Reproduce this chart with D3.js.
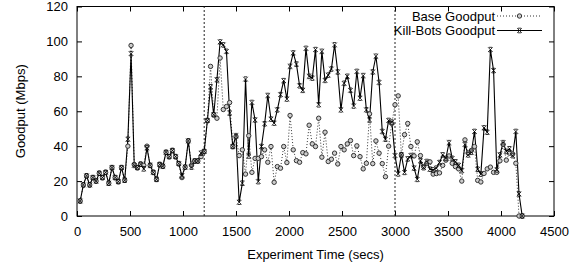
<!DOCTYPE html>
<html>
<head>
<meta charset="utf-8">
<script src="https://cdn.jsdelivr.net/npm/d3@7"></script>
<style>
  body { margin: 0; background: #fff; }
  text { font-family: "Liberation Sans", Arial, sans-serif; fill: #000; }
  .axis path, .axis line { stroke: #000; stroke-width: 1; }
</style>
</head>
<body>
<script>
//sample times (secs)
var times = [
    30,60,90,120,150,180,210,240,270,300,
    330,360,390,420,450,480,510,540,570,600,
    630,660,690,720,750,780,810,840,870,900,
    930,960,990,1020,1050,1080,1110,1140,1170,1200,
    1230,1260,1290,1320,1350,1380,1410,1440,1470,1500,
    1530,1560,1590,1620,1650,1680,1710,1740,1770,1800,
    1830,1860,1890,1920,1950,1980,2010,2040,2070,2100,
    2130,2160,2190,2220,2250,2280,2310,2340,2370,2400,
    2430,2460,2490,2520,2550,2580,2610,2640,2670,2700,
    2730,2760,2790,2820,2850,2880,2910,2940,2970,3000,
    3030,3060,3090,3120,3150,3180,3210,3240,3270,3300,
    3330,3360,3390,3420,3450,3480,3510,3540,3570,3600,
    3630,3660,3690,3720,3750,3780,3810,3840,3870,3900,
    3930,3960,3990,4020,4050,4080,4110,4140,4170,4200
];

//goodput (Mbps)
var baseGoodput = [
    8.6,17.8,23,17.8,22,20,24.5,22,25,18.8,
    27.7,22,19.7,27.7,20.5,40,97.7,29.5,27.7,29.7,
    29,40,29,25,21,29.5,28.5,36.5,34,37.5,
    34,30,22,28,43,29,31.5,31.5,34,37,
    54.7,85.7,58,56,90.5,61,62.7,65,39.8,45.5,
    34.6,37.9,24,46,25,33,33,34,37.9,30.8,
    39.8,19.3,28.3,27.4,39.8,30.6,57.6,37.9,31.7,30.8,
    36.3,35.6,52,41.3,39.8,56,33.7,48,31.2,32.5,
    36,29.8,39.8,37.9,41.3,43.2,34.6,40.2,34,27,
    30.2,58.5,30,43,36,30,22.5,40,53,63.7,
    68.8,35,46.6,53,39.8,34.4,42.5,34.6,28.3,30.2,
    31,24,24.3,24.7,29,32,34.4,30.2,28.3,27,
    20,43.6,36,37.5,39.8,20.4,19.5,24.4,27,28,
    25,25,31.6,41,32,36,35.5,30.2,0,0
];

var killBotsGoodput = [
    8.6,17.8,23,17.8,22,20,24.5,22,25,18.8,
    27.7,22,19.7,27.7,20.5,44,93,29,27.7,29.7,
    27,39,29,25,21,29.5,28.5,36.5,34,37.5,
    34,30,23,28,43,28,31.5,31.5,36,37,
    54.7,74,58,78,99.7,98,94.3,59,39.8,46,
    7.9,18.8,78.4,34.4,65,55,19.7,39.8,52.8,69,
    55.5,53.2,60.8,69.5,77.5,67,85.7,93.4,87,74.6,
    72,96,80,79,95.3,63.7,94.3,77.7,80.7,84.2,
    98,82.5,60.8,76,80,72,63,82.8,67.5,80.4,
    60.8,55,82.5,91.5,76.5,48.4,44,54.7,53.8,34.6,
    24.1,35,25,32.7,34.6,27.4,21,31.6,27.7,31.2,
    26.8,26.4,27.4,30.6,35,33,42,33,31,29,
    26,41,35,36.5,48.4,26.8,24,50.5,48,95.3,
    83.3,26.4,35,42,37,38.5,34.6,48.4,12.6,0
];

var xTicks = [0,500,1000,1500,2000,2500,3000,3500,4000,4500];
var yTicks = [0,20,40,60,80,100,120];
var phaseMarks = [1200, 3000];
var seriesNames = ["Base Goodput", "Kill-Bots Goodput"];

window.onload = drawChart;

function drawChart(){

    var width = 587,
        height = 266;

    //plot frame in pixels
    var left = 77, right = 554, top = 6.5, bottom = 216;

    var svg = d3.select("body")
        .append("svg")
        .attr("width", width)
        .attr("height", height);

    var x = d3.scaleLinear().domain([0, 4500]).range([left, right]);
    var y = d3.scaleLinear().domain([0, 120]).range([bottom, top]);

    //axes, ticks pointing inward like gnuplot
    svg.append("g")
        .attr("class", "axis")
        .attr("transform", "translate(0," + bottom + ")")
        .call(d3.axisBottom(x).tickValues(xTicks).tickFormat(d3.format("d"))
            .tickSizeInner(-5).tickSizeOuter(0).tickPadding(11))
        .call(function(g){ g.selectAll("text").attr("font-size", 13); });

    svg.append("g")
        .attr("class", "axis")
        .attr("transform", "translate(0," + top + ")")
        .call(d3.axisTop(x).tickValues(xTicks).tickSizeInner(-5).tickSizeOuter(0).tickFormat(""));

    svg.append("g")
        .attr("class", "axis")
        .attr("transform", "translate(" + left + ",0)")
        .call(d3.axisLeft(y).tickValues(yTicks).tickSizeInner(-5).tickSizeOuter(0).tickPadding(9))
        .call(function(g){ g.selectAll("text").attr("font-size", 13); });

    svg.append("g")
        .attr("class", "axis")
        .attr("transform", "translate(" + right + ",0)")
        .call(d3.axisRight(y).tickValues(yTicks).tickSizeInner(-5).tickSizeOuter(0).tickFormat(""));

    svg.selectAll(".axis .domain").remove();

    //frame
    svg.append("rect")
        .attr("x", left)
        .attr("y", top)
        .attr("width", right - left)
        .attr("height", bottom - top)
        .attr("fill", "none")
        .attr("stroke", "#000")
        .attr("stroke-width", 1);

    //phase boundaries
    svg.selectAll(".phase")
        .data(phaseMarks)
        .enter()
        .append("line")
        .attr("class", "phase")
        .attr("x1", function(d){ return x(d); })
        .attr("x2", function(d){ return x(d); })
        .attr("y1", y(0))
        .attr("y2", y(120))
        .attr("stroke", "#222")
        .attr("stroke-width", 1)
        .attr("stroke-dasharray", "2,2");

    var baseData = times.map(function(t, i){ return [t, baseGoodput[i]]; });
    var kbData = times.map(function(t, i){ return [t, killBotsGoodput[i]]; });

    var line = d3.line()
        .x(function(d){ return x(d[0]); })
        .y(function(d){ return y(d[1]); });

    var crossPath = "M-2.3,-2.3L2.3,2.3M-2.3,2.3L2.3,-2.3M-1.6,-2.3L1.6,-2.3M-1.6,2.3L1.6,2.3";

    //base goodput: dotted with circles
    svg.append("path")
        .datum(baseData)
        .attr("d", line)
        .attr("fill", "none")
        .attr("stroke", "#333")
        .attr("stroke-width", 1)
        .attr("stroke-dasharray", "1,2");

    //kill-bots goodput: solid
    svg.append("path")
        .datum(kbData)
        .attr("d", line)
        .attr("fill", "none")
        .attr("stroke", "#000")
        .attr("stroke-width", 1.1);

    svg.selectAll(".basePt")
        .data(baseData)
        .enter()
        .append("circle")
        .attr("class", "basePt")
        .attr("cx", function(d){ return x(d[0]); })
        .attr("cy", function(d){ return y(d[1]); })
        .attr("r", 2.2)
        .attr("fill", "#ccc")
        .attr("stroke", "#333")
        .attr("stroke-width", 1);

    svg.selectAll(".kbPt")
        .data(kbData)
        .enter()
        .append("path")
        .attr("class", "kbPt")
        .attr("transform", function(d){ return "translate(" + x(d[0]) + "," + y(d[1]) + ")"; })
        .attr("d", crossPath)
        .attr("fill", "none")
        .attr("stroke", "#000")
        .attr("stroke-width", 0.8);

    //legend
    var legend = svg.append("g");
    var lx0 = 497, lx1 = 542;
    seriesNames.forEach(function(name, i){
        var ly = 16 + i * 14.5;
        legend.append("text")
            .attr("x", 495)
            .attr("y", ly + 4.5)
            .attr("text-anchor", "end")
            .attr("font-size", 13)
            .text(name);
        legend.append("line")
            .attr("x1", lx0).attr("x2", lx1)
            .attr("y1", ly).attr("y2", ly)
            .attr("stroke", i == 0 ? "#333" : "#000")
            .attr("stroke-width", 1)
            .attr("stroke-dasharray", i == 0 ? "1,2" : null);
        if (i == 0){
            legend.append("circle")
                .attr("cx", (lx0 + lx1) / 2).attr("cy", ly).attr("r", 2.2)
                .attr("fill", "#ccc").attr("stroke", "#333").attr("stroke-width", 1);
        } else {
            legend.append("path")
                .attr("transform", "translate(" + ((lx0 + lx1) / 2) + "," + ly + ")")
                .attr("d", crossPath)
                .attr("fill", "none").attr("stroke", "#000").attr("stroke-width", 0.8);
        }
    });

    //axis titles
    svg.append("text")
        .attr("x", (left + right) / 2)
        .attr("y", 259)
        .attr("text-anchor", "middle")
        .attr("font-size", 13)
        .text("Experiment Time (secs)");

    svg.append("text")
        .attr("transform", "translate(25," + ((top + bottom) / 2) + ") rotate(-90)")
        .attr("text-anchor", "middle")
        .attr("font-size", 13)
        .text("Goodput (Mbps)");
}
</script>
</body>
</html>
